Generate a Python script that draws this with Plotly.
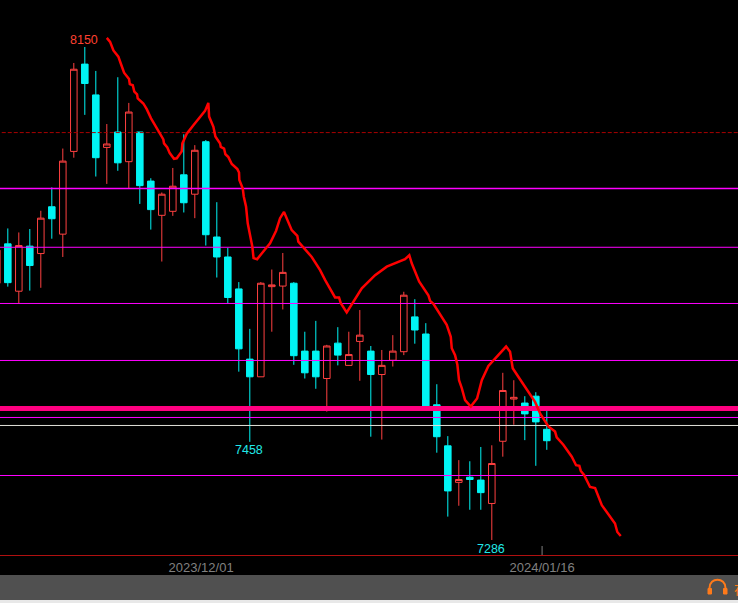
import plotly.graph_objects as go

# ---- data (prices) ----
session = list(range(51))
opens = [7736,7805,7722,7801,7788,7870,7822,7967,8120,8066,7974,8001,7949,8001,7915,7855,7862,7926,7892,7984,
         7817,7782,7726,7603,7572,7730,7731,7736,7617,7617,7569,7631,7592,7634,7617,7576,7601,7616,7677,7647,
         7523,7451,7387,7396,7391,7350,7459,7533,7526,7538,7480]
highs = [7812,7832,7825,7831,7863,7904,7972,8122,8150,8108,8015,8097,8052,8001,7920,7895,7938,7997,7978,7987,
         7878,7798,7738,7656,7738,7760,7789,7738,7651,7670,7628,7659,7651,7689,7626,7619,7645,7721,7708,7666,
         7559,7468,7426,7424,7449,7452,7579,7566,7538,7545,7512]
lows = [7715,7730,7701,7723,7728,7814,7782,7956,8031,7923,7910,7933,7902,7875,7830,7774,7854,7860,7850,7802,
        7746,7701,7581,7458,7572,7651,7690,7593,7569,7551,7511,7592,7592,7565,7467,7462,7590,7610,7630,7517,
        7439,7327,7346,7339,7339,7286,7432,7488,7461,7416,7444]
closes = [7794,7737,7802,7767,7850,7849,7950,8111,8086,7956,7980,7947,8036,7907,7865,7892,7906,7877,7969,7821,
          7782,7711,7621,7572,7736,7733,7755,7609,7579,7572,7626,7610,7611,7645,7576,7592,7617,7715,7654,7517,
          7467,7372,7392,7392,7369,7420,7548,7536,7507,7493,7460]

line_x = [10.0,10.3,10.6,11.05,11.27,11.57,12.02,12.09,12.36,12.5,12.75,12.81,13.32,13.63,14.02,14.69,15.14,15.2,
          15.5,15.72,16.11,16.36,16.81,16.87,17.27,17.87,18.48,18.93,19.23,19.3,19.69,19.87,20.3,20.36,20.66,
          20.78,21.05,21.36,21.87,22.02,22.05,22.36,22.45,22.66,22.81,23.02,23.23,23.34,23.66,24.45,24.84,25.39,25.75,
          26.11,26.39,26.81,27.32,27.41,28.63,29.39,29.84,30.75,31.11,31.27,31.81,33.18,34.39,35.45,37.11,37.5,
          37.72,38.39,39.23,39.39,39.69,40.9,41.27,41.36,41.66,41.87,42.02,42.27,42.57,43.09,43.66,44.09,44.69,
          45.39,46.3,46.66,46.9,47.41,48.18,48.93,49.39,50.14,50.75,50.9,51.5,52.27,52.66,52.96,53.09,53.39,
          53.93,54.39,55.0,56.2,56.41,56.72]
line_y = [8166,8159,8144,8133,8121,8105,8094,8085,8083,8072,8067,8060,8051,8041,8025,8002,7988,7981,
          7974,7964,7954,7955,7967,7981,7998,8013,8027,8038,8052,8028,8010,7993,7981,7975,7972,
          7962,7957,7945,7936,7930,7917,7902,7888,7870,7841,7818,7800,7780,7778,7797,7806,7828,7850,
          7861,7847,7829,7819,7809,7782,7759,7742,7711,7711,7701,7685,7727,7750,7765,7778,7785,
          7771,7739,7715,7705,7700,7663,7642,7622,7610,7593,7566,7552,7531,7520,7534,7566,7591,
          7606,7625,7616,7587,7572,7549,7528,7508,7485,7476,7466,7453,7432,7417,7416,7407,7400,
          7379,7377,7347,7315,7300,7293]

magenta_levels = [7902, 7799, 7700.5, 7600.6, 7500.7, 7399]
magenta_widths = [1.5, 1, 1, 1, 1, 1]
dashed_level = 8000
pink_level = 7516.5
white_level = 7486.7

tick_positions = [18.57, 49.57]
tick_labels = ["2023/12/01", "2024/01/16"]

x_range = [0.29, 67.381]
y_range = [7259.7, 8232.35]

RED = "#ff4040"
CYAN = "#00f4f4"

fig = go.Figure()
fig.add_trace(go.Candlestick(
    x=session, open=opens, high=highs, low=lows, close=closes,
    increasing=dict(line=dict(color=RED, width=1), fillcolor="#000000"),
    decreasing=dict(line=dict(color=CYAN, width=1), fillcolor=CYAN),
    whiskerwidth=0, showlegend=False, hoverinfo="skip"))

for lvl, w in zip(magenta_levels, magenta_widths):
    fig.add_trace(go.Scatter(x=x_range, y=[lvl, lvl], mode="lines", showlegend=False, hoverinfo="skip",
                             line=dict(color="#ff00ff", width=w)))
fig.add_trace(go.Scatter(x=[0.45, x_range[1]], y=[dashed_level]*2, mode="lines", showlegend=False, hoverinfo="skip",
                         line=dict(color="#a80000", width=1, dash="4px,2px")))
fig.add_trace(go.Scatter(x=x_range, y=[white_level]*2, mode="lines", showlegend=False, hoverinfo="skip",
                         line=dict(color="#e0e0d8", width=1)))
fig.add_trace(go.Scatter(x=x_range, y=[pink_level]*2, mode="lines", showlegend=False, hoverinfo="skip",
                         line=dict(color="#ff0080", width=5)))
fig.add_trace(go.Scatter(x=line_x, y=line_y, mode="lines", showlegend=False, hoverinfo="skip",
                         line=dict(color="#ff0000", width=2.5)))

FONT = "Liberation Sans"
def note(x, y, text, color, anchor, yshift):
    fig.add_annotation(x=x, y=y, text=text, showarrow=False, yanchor=anchor, yshift=yshift, xshift=-1,
                       font=dict(family=FONT, size=12.5, color=color))
note(8, max(highs), str(max(highs)), "#ff4030", "bottom", -2)
note(23, 7458, "7458", "#20e8e8", "top", 1)
note(45, 7286, "7286", "#20e8e8", "top", 0)

H = 603
PLOT_H = 555
def py(p):
    return (PLOT_H - p) / PLOT_H

ICON = dict(xref="paper", yref="paper", xsizemode="pixel", ysizemode="pixel",
            xanchor=717.5 / 738, yanchor=py(588))
shapes = [
    dict(type="rect", xref="paper", yref="paper", x0=0, x1=1, y0=py(575), y1=py(600), fillcolor="#505050",
         line_width=0, layer="below"),
    dict(type="rect", xref="paper", yref="paper", x0=0, x1=1, y0=py(603), y1=py(600), fillcolor="#e8e8e8",
         line_width=0, layer="below"),
    dict(type="line", xref="x", yref="paper", x0=tick_positions[1], x1=tick_positions[1], y0=py(555), y1=py(546),
         line=dict(color="#808080", width=1)),
    # headphones icon
    dict(type="path", path="M -8 -5 L -8 0 C -8 11 8 11 8 0 L 8 -5",
         line=dict(color="#ff7a1a", width=2), **ICON),
    dict(type="rect", x0=-9.5, x1=-6, y0=-6, y1=-0.5,
         fillcolor="#ff7a1a", line=dict(color="#ff7a1a", width=1), **ICON),
    dict(type="rect", x0=6, x1=9.5, y0=-6, y1=-0.5,
         fillcolor="#ff7a1a", line=dict(color="#ff7a1a", width=1), **ICON),
]

fig.add_annotation(xref="paper", yref="paper", x=732 / 738, y=py(588), xanchor="left", yanchor="middle",
                   text="在", showarrow=False, font=dict(family="Noto Sans CJK SC", size=13, color="#ff7a1a"))

fig.update_layout(
    width=738, height=H, margin=dict(l=0, r=0, t=0, b=H - PLOT_H, pad=0),
    paper_bgcolor="#000000", plot_bgcolor="#000000", boxgap=0.15, shapes=shapes,
    hovermode=False, showlegend=False,
    xaxis=dict(range=x_range, rangeslider=dict(visible=False), showgrid=False, zeroline=False,
               showline=True, linecolor="#b01010", linewidth=1, tickmode="array",
               tickvals=tick_positions, ticktext=tick_labels, ticks="", automargin=False,
               tickfont=dict(family=FONT, size=13, color="#808080")),
    yaxis=dict(range=y_range, visible=False, showgrid=False, zeroline=False, automargin=False),
)

fig.write_html("out.html", config=dict(displayModeBar=False),
               post_script="document.body.style.margin='0';document.body.style.background='#000';"
                           "document.documentElement.style.overflow='hidden';")
